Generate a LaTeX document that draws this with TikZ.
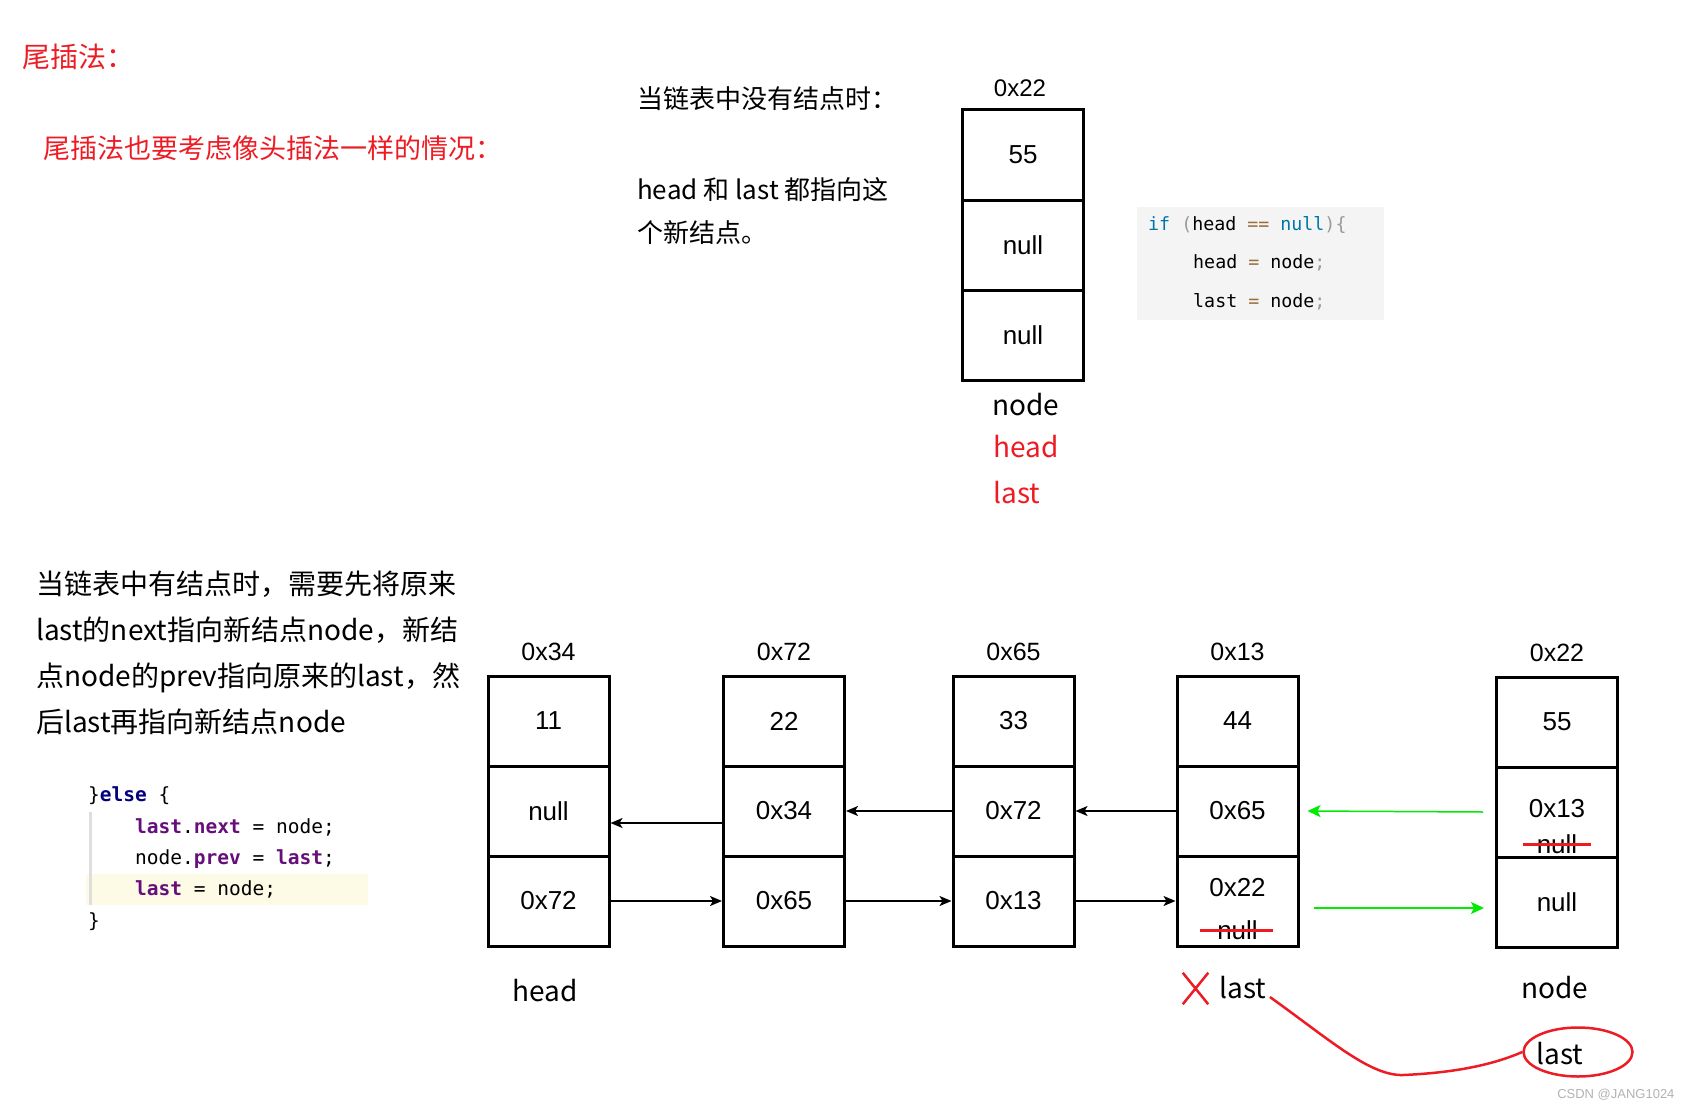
\documentclass[tikz,border=0pt]{standalone}
\usepackage{fontspec}
\setmainfont{Liberation Sans}
\newfontfamily\cjk{Noto Sans CJK SC}
\newfontfamily\mono{DejaVu Sans Mono}
\usetikzlibrary{arrows.meta,shapes.geometric,shapes.misc}

\definecolor{redmark}{RGB}{237,28,36}
\definecolor{kwblue}{RGB}{0,119,170}
\definecolor{punct}{RGB}{153,153,153}
\definecolor{oper}{RGB}{154,110,58}
\definecolor{codebg}{RGB}{244,244,244}
\definecolor{navy}{RGB}{0,0,128}
\definecolor{field}{RGB}{102,14,122}
\definecolor{hilite}{RGB}{253,250,230}
\definecolor{okgreen}{RGB}{0,235,0}

\tikzset{
  cell/.style={draw, line width=3pt, minimum width=121pt, minimum height=90pt, inner sep=0pt, font=\fontsize{26}{30}\selectfont},
  celltext/.style={inner sep=0pt, font=\fontsize{26}{30}\selectfont},
  addr/.style={font=\fontsize{25}{30}\selectfont},
  lbl/.style={font=\cjk\fontsize{28}{34}\selectfont},
  link/.style={-{Stealth[length=12pt,width=10pt,inset=3pt]}, line width=1.5pt},
  newlink/.style={-{Stealth[length=13pt,width=12pt,inset=3pt]}, line width=1.5pt, draw=okgreen},
  strike/.style={draw=redmark, line width=3pt},
  topcode/.style={anchor=west, inner sep=0pt, font=\mono\fontsize{18.3}{22}\selectfont},
  elsecode/.style={anchor=west, inner sep=0pt, font=\mono\fontsize{19.5}{24}\selectfont}
}

\begin{document}
\begin{tikzpicture}[x=1pt, y=-1pt]
\useasboundingbox (0,0) rectangle (1693,1110);

\node[lbl, text=redmark, anchor=west, inner sep=0pt] (title) at (22,57) {尾插法：};
\node[lbl, text=redmark, anchor=west, inner sep=0pt] (subtitle) at (43,148) {\fontsize{27}{32}\selectfont 尾插法也要考虑像头插法一样的情况：};

% empty list
\node[lbl, anchor=west, inner sep=0pt] (q1) at (637,99) {\fontsize{26}{32}\selectfont 当链表中没有结点时：};
\node[anchor=north west, inner sep=0pt, align=left, font=\cjk\fontsize{26}{43}\selectfont] (q2) at (637,177) {head 和 last 都指向这\\个新结点。};

\node[addr] (t0) at (1020,88) {\fontsize{24}{28}\selectfont 0x22};
\node[cell] (t1) at (1023,155) {55};
\node[cell] (t2) at (1023,245) {null};
\node[cell] (t3) at (1023,335) {null};
\node[lbl] (tnode) at (1026,405) {node};
\node[lbl, text=redmark] (thead) at (1026,447) {head};
\node[lbl, text=redmark] (tlast) at (1017,493) {last};

\fill[codebg] (1137,207) rectangle (1384,320);
\node[topcode] (c1) at (1148,225) {\textcolor{kwblue}{if} \textcolor{punct}{(}head \textcolor{oper}{==} \textcolor{kwblue}{null}\textcolor{punct}{)\{}};
\node[topcode] (c2) at (1193,263) {head \textcolor{oper}{=} node\textcolor{punct}{;}};
\node[topcode] (c3) at (1193,302) {last \textcolor{oper}{=} node\textcolor{punct}{;}};

% non-empty list
\node[anchor=north west, inner sep=0pt, align=left, font=\cjk\fontsize{28}{46}\selectfont] (p1) at (36,571) {%
当链表中有结点时，需要先将原来\\
last的next指向新结点node，新结\\
点node的prev指向原来的last，然\\
后last再指向新结点node};

\fill[hilite] (86,874) rectangle (368,905);
\fill[black!13] (89,812) rectangle (92,905);
\node[elsecode] (e1) at (88,796) {\}\textcolor{navy}{\bfseries else} \{};
\node[elsecode] (e2) at (135,827) {\textcolor{field}{\bfseries last}.\textcolor{field}{\bfseries next} = node;};
\node[elsecode] (e3) at (135,859) {node.\textcolor{field}{\bfseries prev} = \textcolor{field}{\bfseries last};};
\node[elsecode] (e4) at (135,889) {\textcolor{field}{\bfseries last} = node;};
\node[elsecode] (e5) at (88,922) {\}};

\foreach \id/\x/\top/\adr/\val/\pv/\nx in {1/548.5/676/0x34/11/null/0x72, 2/784/676/0x72/22/0x34/0x65, 3/1013.5/676/0x65/33/0x72/0x13, 4/1237.5/676/0x13/44/0x65/{}, 5/1557/677/0x22/55/{}/null}
{
  \node[addr] (b\id t) at (\x,\top-24) {\adr};
  \node[cell] (b\id a) at (\x,\top+45) {\val};
  \node[cell] (b\id b) at (\x,\top+135) {\pv};
  \node[cell] (b\id c) at (\x,\top+225) {\nx};
}

\node[celltext] (b4new) at ([yshift=13pt]b4c) {0x22};
\node[celltext] (b4old) at ([yshift=-29pt]b4c) {null};
\draw[strike] ([xshift=-17pt]b4old.west) -- ([xshift=15pt]b4old.east);
\node[celltext] (b5new) at ([yshift=3pt]b5b) {0x13};
\node[celltext] (b5old) at ([yshift=-32pt]b5b) {null};
\draw[strike] ([xshift=-14pt]b5old.west) -- ([xshift=14pt]b5old.east);

\draw[link] ([yshift=-12pt]b2b.west) -- ([yshift=-12pt]b1b.east);
\draw[link] (b3b.west) -- (b2b.east);
\draw[link] (b4b.west) -- (b3b.east);
\draw[link] (b1c.east) -- (b2c.west);
\draw[link] (b2c.east) -- (b3c.west);
\draw[link] (b3c.east) -- (b4c.west);

\draw[newlink] ([xshift=-12pt]b5b.west) -- ([xshift=8pt]b4b.east);
\draw[newlink] ([shift={(14pt,-7pt)}]b4c.east) -- ([shift={(-11pt,-6pt)}]b5c.west);

\node[lbl] (b1n) at (545,991) {head};
\node[cross out, draw=redmark, line width=2.5pt, minimum width=23pt, minimum height=29pt, inner sep=0pt] (nope) at (1195.5,988.5) {};
\node[lbl] (oldlast) at (1243,988) {last};
\node[lbl] (b5n) at (1555,988) {node};
\node[ellipse, draw=redmark, line width=2.5pt, minimum width=109pt, minimum height=49pt, inner sep=0pt] (ring) at (1578,1052) {};
\node[lbl] (newlast) at (1560,1054) {last};
\draw[redmark, line width=2.5pt] ([yshift=-9pt]oldlast.east) .. controls (1330,1040) and (1370,1076) .. (1403,1075) .. controls (1450,1073) and (1490,1066) .. (ring.west);

\node[anchor=east, text=black!30, font=\fontsize{13}{15}\selectfont] (wm) at (1678,1095) {CSDN @JANG1024};
\end{tikzpicture}
\end{document}
